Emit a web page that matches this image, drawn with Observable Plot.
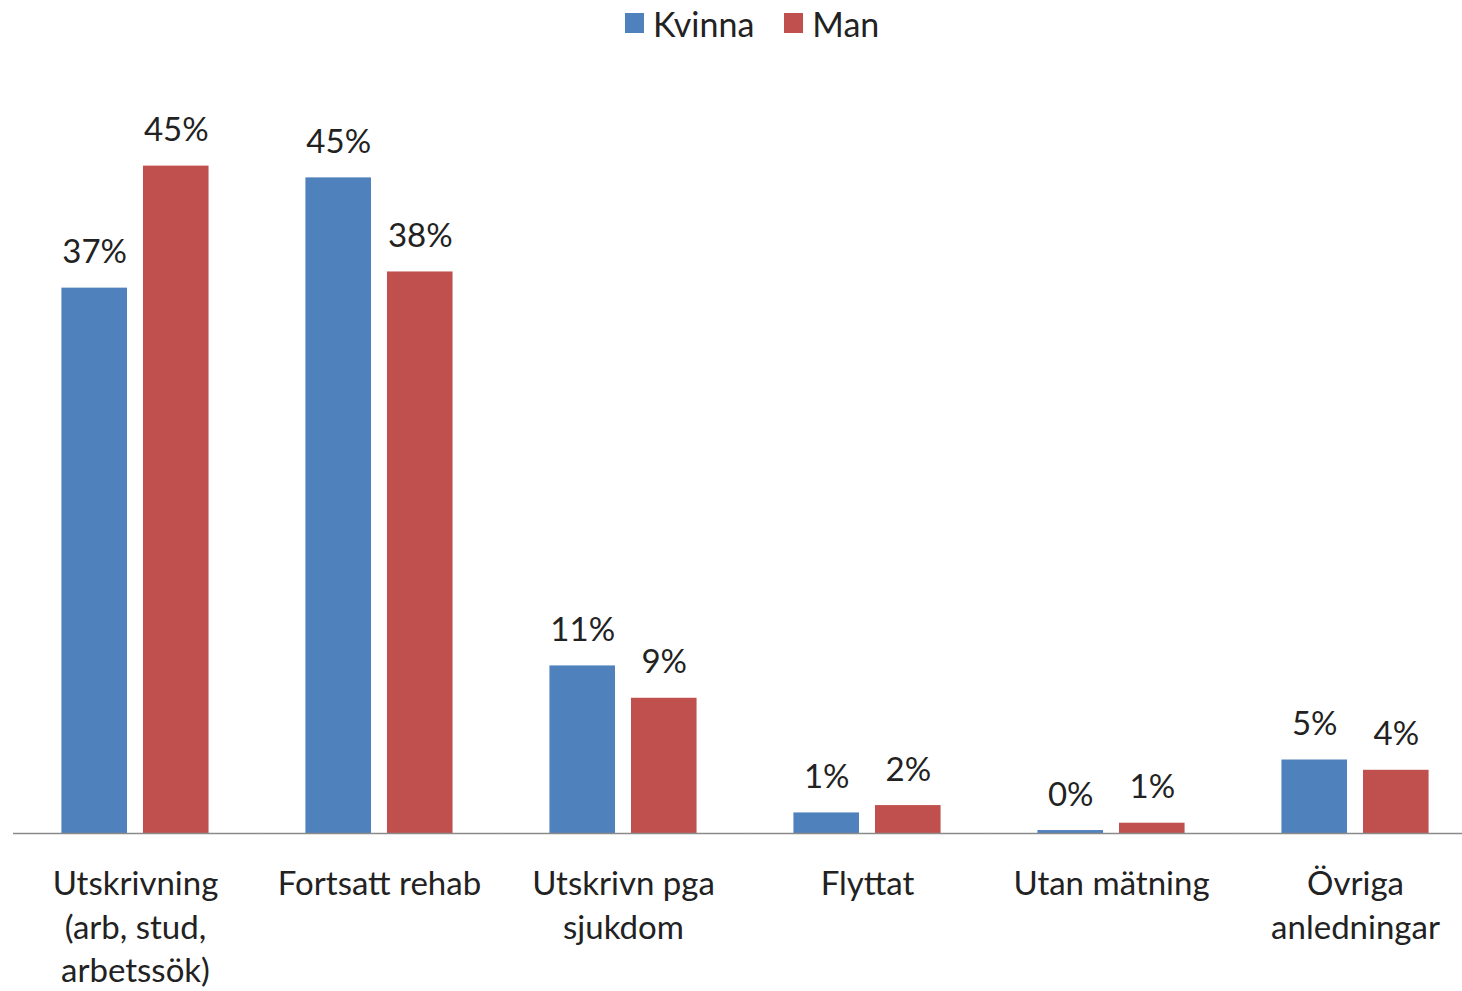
<!DOCTYPE html>
<html>
<head>
<meta charset="utf-8">
<script src="https://cdn.jsdelivr.net/npm/d3@7"></script>
<script src="https://cdn.jsdelivr.net/npm/@observablehq/plot@0.6"></script>
<style>
  body { margin: 0; overflow: hidden; background: #fff; font-family: Lato, sans-serif; }
  #legend { height: 50px; display: flex; align-items: center; padding-left: 625px; padding-bottom: 4px; box-sizing: border-box; }
  .item { display: flex; align-items: center; margin-right: 30px; font-size: 34px; color: #222; }
  .swatch { width: 19px; height: 20px; margin-right: 9px; }
  svg { display: block; max-width: none !important; }
</style>
</head>
<body>
<div id="legend"></div>
<div id="chart"></div>
<script>
const categories = ["Utskrivning\n(arb, stud,\narbetssök)", "Fortsatt rehab", "Utskrivn pga\nsjukdom", "Flyttat", "Utan mätning", "Övriga\nanledningar"];
const series = ["Kvinna", "Man"];
const kvinna = [37.1, 44.6, 11.4, 1.4, 0.2, 5.0];
const man = [45.4, 38.2, 9.2, 1.9, 0.7, 4.3];
const colors = ["#4F81BD", "#C0504D"];

const rows = categories.flatMap((c, i) => [
  {category: c, sex: series[0], value: kvinna[i]},
  {category: c, sex: series[1], value: man[i]}
]);

const legend = document.getElementById("legend");
series.forEach((s, i) => {
  const item = document.createElement("div");
  item.className = "item";
  const sw = document.createElement("span");
  sw.className = "swatch";
  sw.style.background = colors[i];
  item.appendChild(sw);
  item.appendChild(document.createTextNode(s));
  legend.appendChild(item);
});

const chart = Plot.plot({
  width: 1477,
  height: 941,
  marginLeft: 13,
  marginRight: 0,
  marginTop: 48,
  marginBottom: 158,
  style: {fontFamily: "Lato, sans-serif", fontSize: "33px", color: "#222", background: "#fff", maxWidth: "none"},
  fx: {domain: categories, paddingInner: 0.397, paddingOuter: 0.1984, round: false, label: null},
  x: {domain: series, paddingInner: 0.196, paddingOuter: 0, round: false, axis: null},
  y: {domain: [0, 50], axis: null},
  color: {domain: series, range: colors},
  marks: [
    Plot.barY(rows, {fx: "category", x: "sex", y: "value", fill: "sex"}),
    Plot.ruleY([0], {stroke: "#8a8a8a", strokeWidth: 1.5, insetLeft: -48.4, insetRight: -48.4}),
    Plot.text(rows, {fx: "category", x: "sex", y: "value", text: d => Math.round(d.value) + "%", lineAnchor: "bottom", dy: -25, fontSize: 33, fill: "#222"}),
    Plot.axisFx({anchor: "bottom", tickSize: 0, tickPadding: 30, lineHeight: 1.33, fontSize: 33, label: null, fill: "#222"})
  ]
});
document.getElementById("chart").appendChild(chart);
</script>
</body>
</html>
